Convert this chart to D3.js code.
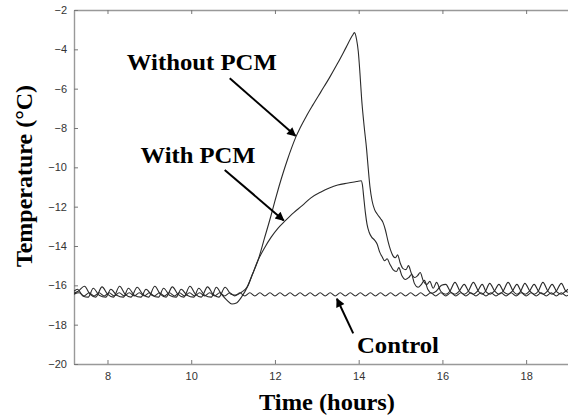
<!DOCTYPE html>
<html>
<head>
<meta charset="utf-8">
<script src="https://cdn.jsdelivr.net/npm/d3@7"></script>
<style>
  html, body { margin: 0; padding: 0; background: #fff; }
  svg { display: block; }
  .tick text { font-family: "Liberation Sans", Arial, sans-serif; font-size: 11px; fill: #333; }
  .ann { font-family: "Liberation Serif", "Times New Roman", serif; font-weight: bold; font-size: 24px; fill: #000; }
</style>
</head>
<body>
<svg id="chart" width="568" height="417"></svg>
<script>
// Tick values
const xTicks = [8, 10, 12, 14, 16, 18];
const yTicks = [-20, -18, -16, -14, -12, -10, -8, -6, -4, -2];

// Freezer temperature logs, [hour, °C]
const withoutPCM = [
  [7.2,-16.4],[7.3,-16.3],[7.45,-16.05],[7.58,-16.45],[7.72,-16.6],[7.87,-16.08],[8.0,-16.45],[8.14,-16.6],
  [8.29,-16.05],[8.42,-16.45],[8.56,-16.6],[8.71,-16.1],[8.84,-16.45],[8.98,-16.6],[9.13,-16.05],[9.26,-16.45],
  [9.4,-16.6],[9.55,-16.08],[9.68,-16.45],[9.82,-16.6],[9.97,-16.05],[10.1,-16.45],[10.24,-16.6],[10.39,-16.08],
  [10.52,-16.45],[10.66,-16.6],[10.81,-16.1],[10.95,-16.45],[11.07,-16.5],[11.2,-16.35],[11.33,-16.1],[11.45,-15.5],
  [11.6,-14.7],[11.75,-13.6],[11.9,-12.5],[12.0,-11.7],[12.1,-10.95],[12.2,-10.25],[12.3,-9.6],[12.4,-9.0],
  [12.5,-8.45],[12.6,-8.0],[12.75,-7.4],[12.9,-6.85],[13.1,-6.15],[13.3,-5.45],[13.5,-4.7],[13.7,-3.9],
  [13.85,-3.3],[13.9,-3.15],[13.95,-3.5],
  [13.99,-4.1],[14.03,-5.2],[14.07,-6.5],[14.13,-7.9],[14.19,-9.1],[14.23,-10.1],[14.27,-11.0],[14.32,-11.7],
  [14.38,-12.15],[14.45,-12.4],[14.52,-12.6],[14.58,-12.8],[14.64,-13.2],[14.7,-13.75],[14.76,-14.2],[14.82,-14.5],
  [14.88,-14.6],[14.93,-14.45],[14.99,-14.85],[15.06,-15.15],[15.13,-15.2],[15.19,-15.0],[15.26,-15.4],[15.34,-15.6],
  [15.41,-15.5],[15.47,-15.35],[15.54,-15.75],[15.63,-15.95],[15.7,-15.8],[15.78,-16.15],[15.86,-15.85],[15.96,-16.3],
  [16.08,-16.45],[16.18,-16.3],[16.3,-15.85],[16.42,-16.3],[16.52,-16.45],[16.62,-16.3],[16.74,-15.85],[16.86,-16.3],
  [16.95,-16.45],[17.03,-16.3],[17.13,-15.9],[17.25,-16.3],[17.35,-16.45],[17.45,-16.3],[17.57,-15.85],[17.69,-16.3],
  [17.78,-16.45],[17.87,-16.3],[17.97,-15.9],[18.09,-16.3],[18.19,-16.45],[18.29,-16.3],[18.4,-15.85],[18.52,-16.3],
  [18.62,-16.45],[18.72,-16.3],[18.84,-15.9],[18.95,-16.3],[19.0,-16.35]
];

const withPCM = [
  [7.2,-16.3],[7.28,-16.2],[7.42,-16.55],[7.54,-16.6],[7.66,-16.15],[7.8,-16.5],[7.96,-16.6],[8.08,-16.2],
  [8.22,-16.5],[8.38,-16.6],[8.5,-16.15],[8.64,-16.5],[8.8,-16.6],[8.92,-16.2],[9.06,-16.5],[9.22,-16.6],
  [9.34,-16.15],[9.48,-16.5],[9.64,-16.6],[9.76,-16.2],[9.9,-16.5],[10.06,-16.6],[10.18,-16.15],[10.32,-16.5],
  [10.48,-16.6],[10.6,-16.1],[10.72,-16.45],[10.85,-16.75],[10.97,-16.95],[11.08,-16.9],[11.2,-16.6],[11.35,-16.05],
  [11.47,-15.4],[11.59,-14.75],[11.75,-14.1],[11.91,-13.55],[12.07,-13.1],[12.23,-12.75],[12.45,-12.3],[12.65,-11.95],
  [12.86,-11.55],[13.1,-11.25],[13.3,-11.05],[13.5,-10.9],[13.75,-10.8],[13.95,-10.72],[14.06,-10.68],[14.09,-10.9],
  [14.12,-11.5],[14.16,-12.3],[14.2,-12.9],[14.25,-13.3],[14.31,-13.55],[14.38,-13.7],[14.44,-13.9],[14.5,-14.3],
  [14.56,-14.55],[14.62,-14.75],[14.68,-14.65],[14.74,-14.9],[14.82,-15.2],[14.9,-15.3],[14.96,-15.1],[15.03,-15.5],
  [15.12,-15.7],[15.2,-15.6],[15.26,-15.45],[15.33,-15.9],[15.42,-16.1],[15.5,-15.95],[15.57,-15.75],[15.65,-16.2],
  [15.75,-16.4],[15.85,-16.3],[15.98,-16.0],[16.08,-15.95],[16.2,-16.35],[16.3,-16.45],[16.4,-16.3],[16.52,-15.95],
  [16.64,-16.35],[16.74,-16.45],[16.84,-16.3],[16.95,-15.95],[17.05,-16.35],[17.14,-16.45],[17.24,-16.3],[17.35,-15.95],
  [17.47,-16.35],[17.57,-16.45],[17.67,-16.3],[17.78,-15.95],[17.89,-16.35],[17.98,-16.45],[18.08,-16.3],[18.19,-15.95],
  [18.31,-16.35],[18.41,-16.45],[18.51,-16.3],[18.62,-15.95],[18.74,-16.35],[18.84,-16.45],[18.94,-16.3],[19.0,-16.2]
];

const control = [
  [7.20,-16.45],[7.32,-16.38],[7.44,-16.54],[7.56,-16.38],[7.68,-16.54],[7.80,-16.38],[7.92,-16.54],[8.04,-16.38],
  [8.16,-16.54],[8.28,-16.38],[8.40,-16.54],[8.52,-16.38],[8.64,-16.54],[8.76,-16.38],[8.88,-16.54],[9.00,-16.38],
  [9.12,-16.54],[9.24,-16.38],[9.36,-16.54],[9.48,-16.38],[9.60,-16.54],[9.72,-16.38],[9.84,-16.54],[9.96,-16.38],
  [10.08,-16.54],[10.20,-16.38],[10.32,-16.54],[10.44,-16.38],[10.56,-16.54],[10.68,-16.38],[10.80,-16.54],[10.92,-16.38],
  [11.04,-16.54],[11.16,-16.38],[11.28,-16.54],[11.40,-16.38],[11.52,-16.54],[11.64,-16.38],[11.76,-16.54],[11.88,-16.38],
  [12.00,-16.54],[12.12,-16.38],[12.24,-16.54],[12.36,-16.38],[12.48,-16.54],[12.60,-16.38],[12.72,-16.54],[12.84,-16.38],
  [12.96,-16.54],[13.08,-16.38],[13.20,-16.54],[13.32,-16.38],[13.44,-16.54],[13.56,-16.38],[13.68,-16.54],[13.80,-16.38],
  [13.92,-16.54],[14.04,-16.38],[14.16,-16.54],[14.28,-16.38],[14.40,-16.54],[14.52,-16.38],[14.64,-16.54],[14.76,-16.38],
  [14.88,-16.54],[15.00,-16.38],[15.12,-16.54],[15.24,-16.38],[15.36,-16.54],[15.48,-16.38],[15.60,-16.54],[15.72,-16.38],
  [15.84,-16.54],[15.96,-16.38],[16.08,-16.54],[16.20,-16.38],[16.32,-16.54],[16.44,-16.38],[16.56,-16.54],[16.68,-16.38],
  [16.80,-16.54],[16.92,-16.38],[17.04,-16.54],[17.16,-16.38],[17.28,-16.54],[17.40,-16.38],[17.52,-16.54],[17.64,-16.38],
  [17.76,-16.54],[17.88,-16.38],[18.00,-16.54],[18.12,-16.38],[18.24,-16.54],[18.36,-16.38],[18.48,-16.54],[18.60,-16.38],
  [18.72,-16.54],[18.84,-16.38],[18.96,-16.54],[19.00,-16.5]
];

// Callout labels: text, anchor (hour, °C), width
const labelText = ["Without PCM", "With PCM", "Control"];
const labelAt = [[8.46, -5.05], [8.79, -9.76], [13.96, -19.42]];
const labelWidth = [150, 115, 82];
// Callout arrows: tail (hour, °C) -> tip (hour, °C)
const arrowFrom = [[10.92, -5.47], [10.8, -10.13], [13.87, -18.44]];
const arrowTo = [[12.49, -8.4], [12.21, -12.7], [13.48, -16.68]];

const svg = d3.select("#chart");
const M = { left: 74, right: 568, top: 10, bottom: 364 };

const x = d3.scaleLinear().domain([7.2, 19]).range([M.left, M.right]);
const y = d3.scaleLinear().domain([-20, -2]).range([M.bottom, M.top]);

svg.append("rect").attr("width", 568).attr("height", 417).attr("fill", "#fff");

svg.append("defs").append("clipPath").attr("id", "plotClip")
  .append("rect").attr("x", M.left).attr("y", M.top)
  .attr("width", M.right - M.left).attr("height", M.bottom - M.top);

svg.select("defs").append("marker")
  .attr("id", "head").attr("viewBox", "0 0 10 10")
  .attr("refX", 9).attr("refY", 5)
  .attr("markerWidth", 5.5).attr("markerHeight", 4.5)
  .attr("markerUnits", "strokeWidth")
  .attr("orient", "auto")
  .append("path").attr("d", "M0,0 L10,5 L0,10 Z").attr("fill", "#000");

// Axes: ticks point into the plot
const axisColor = "#999";
function styleAxis(g) {
  g.select(".domain").attr("stroke", axisColor).attr("stroke-width", 1.4);
  g.selectAll(".tick line").attr("stroke", "#777").attr("stroke-width", 1);
}

svg.append("g").attr("transform", `translate(0,${M.bottom})`)
  .call(d3.axisBottom(x).tickValues(xTicks).tickFormat(d3.format("d"))
    .tickSizeInner(-4).tickSizeOuter(0).tickPadding(8))
  .call(styleAxis);

svg.append("g").attr("transform", `translate(0,${M.top})`)
  .call(d3.axisTop(x).tickValues(xTicks).tickFormat("")
    .tickSizeInner(-4).tickSizeOuter(0))
  .call(styleAxis);

svg.append("g").attr("transform", `translate(${M.left},0)`)
  .call(d3.axisLeft(y).tickValues(yTicks).tickFormat(d3.format("d"))
    .tickSizeInner(-4).tickSizeOuter(0).tickPadding(7))
  .call(styleAxis);

svg.selectAll(".tick text").attr("font-family", null).attr("font-size", null).attr("fill", "#333");

// Temperature curves
const line = d3.line().x(d => x(d[0])).y(d => y(d[1])).curve(d3.curveMonotoneX);
const curves = svg.append("g").attr("clip-path", "url(#plotClip)");
[control, withPCM, withoutPCM].forEach(series => {
  curves.append("path").datum(series)
    .attr("fill", "none").attr("stroke", "#2a2a2a")
    .attr("stroke-width", 1.1).attr("stroke-linejoin", "round")
    .attr("d", line);
});

// Callouts
labelText.forEach((t, i) => {
  svg.append("text").attr("class", "ann")
    .attr("x", x(labelAt[i][0])).attr("y", y(labelAt[i][1]))
    .attr("textLength", labelWidth[i]).attr("lengthAdjust", "spacingAndGlyphs")
    .text(t);
  svg.append("line")
    .attr("x1", x(arrowFrom[i][0])).attr("y1", y(arrowFrom[i][1]))
    .attr("x2", x(arrowTo[i][0])).attr("y2", y(arrowTo[i][1]))
    .attr("stroke", "#000").attr("stroke-width", 2)
    .attr("marker-end", "url(#head)");
});

// Axis titles
svg.append("text").attr("class", "ann")
  .attr("x", 327).attr("y", 410)
  .attr("text-anchor", "middle")
  .attr("textLength", 136).attr("lengthAdjust", "spacingAndGlyphs")
  .text("Time (hours)");

svg.append("text").attr("class", "ann")
  .attr("transform", "translate(32,176) rotate(-90)")
  .attr("text-anchor", "middle")
  .text("Temperature (°C)");
</script>
</body>
</html>
